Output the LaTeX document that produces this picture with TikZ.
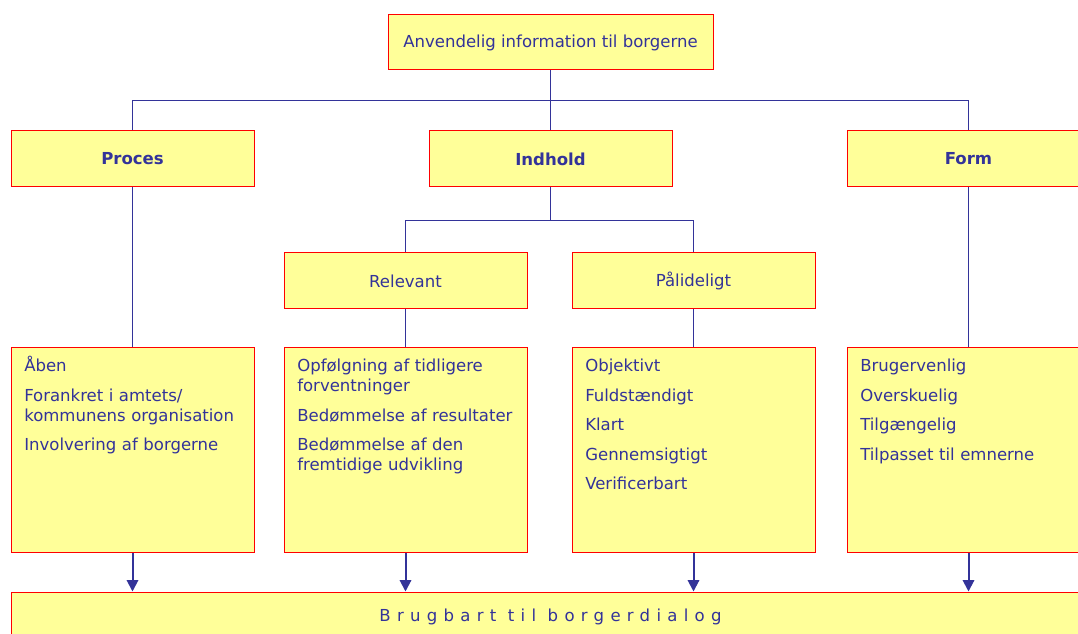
\documentclass[tikz,border=0pt]{standalone}
\usepackage{fontspec}
\setmainfont{DejaVu Sans}
\usetikzlibrary{arrows.meta}

\definecolor{gulfyld}{HTML}{FFFF99}
\definecolor{blaa}{HTML}{333399}

\tikzset{
  boks/.style={draw=red, line width=0.75pt, fill=gulfyld, text=blaa,
    font=\fontsize{12.4}{15}\selectfont, inner sep=0pt,
    minimum width=182.25pt, minimum height=42pt},
  hoved/.style={boks, font=\fontsize{12.4}{15}\selectfont\bfseries},
  listeboks/.style={boks, minimum height=153pt},
  punkter/.style={anchor=base west, inner sep=0pt, text=blaa, align=left,
    text width=172pt, font=\fontsize{12.4}{15}\selectfont},
  linje/.style={draw=blaa, line width=0.75pt},
  pil/.style={draw=blaa, line width=1.5pt, -{Triangle[length=8.5pt,width=8.5pt]}}
}

\begin{document}
\begin{tikzpicture}[x=0.75pt, y=-0.75pt]
  \clip (0,0) rectangle (1078,634);
  \fill[white] (0,0) rectangle (1078,634);

  % top
  \node[boks, minimum width=243.75pt, minimum height=41.25pt] (top) at (550.5,42.5) {Anvendelig information til borgerne};

  % hovedomraader
  \node[hoved] (proces) at (132.5,159) {Proces};
  \node[hoved] (indhold) at (550.5,159) {Indhold};
  \node[hoved] (form) at (968.5,159) {Form};

  \node[boks] (relevant) at (405.5,281) {Relevant};
  \node[boks] (paal) at (693.5,281) {Pålideligt};

  % lister
  \node[listeboks] (plist) at (132.5,450) {};
  \node[listeboks] (rlist) at (405.5,450) {};
  \node[listeboks] (vlist) at (693.5,450) {};
  \node[listeboks] (flist) at (968.5,450) {};

  \node[punkter] (ptekst) at (24,371.5) {Åben\\[7.2pt]Forankret i amtets/\\kommunens organisation\\[7.2pt]Involvering af borgerne};
  \node[punkter] (rtekst) at (297,371.5) {Opfølgning af tidligere\\forventninger\\[7.2pt]Bedømmelse af resultater\\[7.2pt]Bedømmelse af den\\fremtidige udvikling};
  \node[punkter] (vtekst) at (585,371.5) {Objektivt\\[7.2pt]Fuldstændigt\\[7.2pt]Klart\\[7.2pt]Gennemsigtigt\\[7.2pt]Verificerbart};
  \node[punkter] (ftekst) at (860,371.5) {Brugervenlig\\[7.2pt]Overskuelig\\[7.2pt]Tilgængelig\\[7.2pt]Tilpasset til emnerne};

  % bund
  \node[boks, minimum width=809.25pt, minimum height=37.5pt] (bund) at (550.5,617) {\addfontfeature{LetterSpace=38}Brugbart til borgerdialog};

  % forbindelser
  \draw[linje] (top) -- (indhold);
  \draw[linje] (proces.north) -- ++(0,-30) -| (form.north);
  \draw[linje] (indhold.south) -- ++(0,33) -| (relevant.north);
  \draw[linje] (indhold.south) -- ++(0,33) -| (paal.north);
  \draw[linje] (proces) -- (plist);
  \draw[linje] (relevant) -- (rlist);
  \draw[linje] (paal) -- (vlist);
  \draw[linje] (form) -- (flist);

  \draw[pil] (plist.south) -- (plist.south |- bund.north);
  \draw[pil] (rlist.south) -- (rlist.south |- bund.north);
  \draw[pil] (vlist.south) -- (vlist.south |- bund.north);
  \draw[pil] (flist.south) -- (flist.south |- bund.north);
\end{tikzpicture}
\end{document}
